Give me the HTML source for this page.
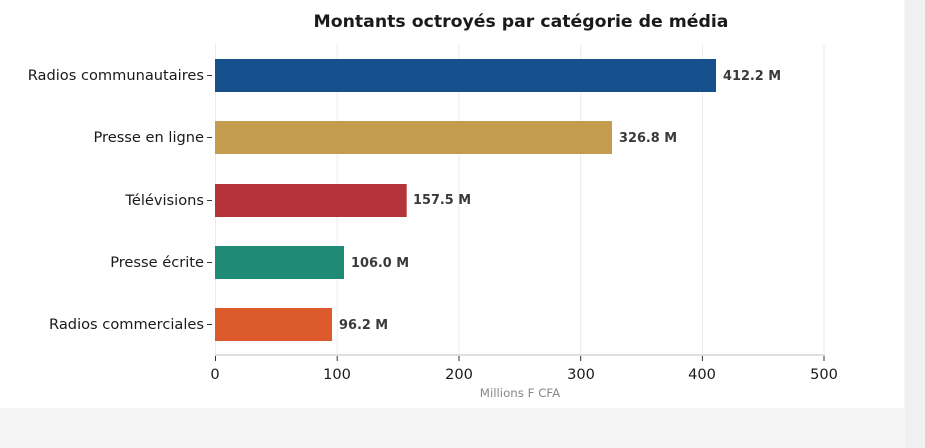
<!DOCTYPE html>
<html><head><meta charset="utf-8"><style>
html,body{margin:0;padding:0;background:#f5f5f5;}
body{width:925px;height:448px;position:relative;overflow:hidden;font-family:"DejaVu Sans","Liberation Sans",sans-serif;}
</style></head><body>
<div style="position:absolute;left:905px;top:0;width:20px;height:448px;background:#f0f0f0"></div>
<div style="position:absolute;left:0;top:0;width:904px;height:408px;background:#fff"></div>
<svg style="position:absolute;left:0;top:0" width="925" height="448" font-family="DejaVu Sans, Liberation Sans, sans-serif">
<text x="521" y="27" text-anchor="middle" font-size="17.3" font-weight="bold" fill="#1a1a1a">Montants octroyés par catégorie de média</text>
<g stroke="#ebebeb" stroke-width="1">
<line x1="337.2" y1="44" x2="337.2" y2="355"/><line x1="459" y1="44" x2="459" y2="355"/>
<line x1="580.7" y1="44" x2="580.7" y2="355"/><line x1="702.4" y1="44" x2="702.4" y2="355"/>
<line x1="824" y1="44" x2="824" y2="355"/><line x1="215.5" y1="44" x2="215.5" y2="355"/>
</g>
<line x1="215" y1="355" x2="825" y2="355" stroke="#cccccc" stroke-width="1.2"/>
<rect x="215" y="59" width="501" height="33" fill="#154f8c"/>
<rect x="215" y="121" width="397" height="33" fill="#c49c4e"/>
<rect x="215" y="184" width="191.7" height="33" fill="#b5323a"/>
<rect x="215" y="246" width="129" height="33" fill="#1f8a75"/>
<rect x="215" y="308" width="117" height="33" fill="#dc5a2c"/>
<g font-size="12.9" font-weight="bold" fill="#3a3a3a">
<text x="723" y="80">412.2 M</text><text x="619" y="142">326.8 M</text>
<text x="413" y="204">157.5 M</text><text x="351" y="267">106.0 M</text>
<text x="339" y="329">96.2 M</text>
</g>
<g font-size="14.6" fill="#1a1a1a" text-anchor="end">
<text x="204" y="80">Radios communautaires</text><text x="204" y="142">Presse en ligne</text>
<text x="204" y="205">Télévisions</text><text x="204" y="267">Presse écrite</text>
<text x="204" y="329">Radios commerciales</text>
</g>
<g stroke="#333" stroke-width="1">
<line x1="207" y1="75.5" x2="212" y2="75.5"/><line x1="207" y1="137.5" x2="212" y2="137.5"/>
<line x1="207" y1="200.5" x2="212" y2="200.5"/><line x1="207" y1="262.5" x2="212" y2="262.5"/>
<line x1="207" y1="324.5" x2="212" y2="324.5"/>
<line x1="215.5" y1="356" x2="215.5" y2="361"/><line x1="337.2" y1="356" x2="337.2" y2="361"/>
<line x1="459" y1="356" x2="459" y2="361"/><line x1="580.7" y1="356" x2="580.7" y2="361"/>
<line x1="702.4" y1="356" x2="702.4" y2="361"/><line x1="824" y1="356" x2="824" y2="361"/>
</g>
<g font-size="14.6" fill="#1a1a1a" text-anchor="middle">
<text x="215" y="379">0</text><text x="337" y="379">100</text><text x="459" y="379">200</text>
<text x="581" y="379">300</text><text x="702" y="379">400</text><text x="824" y="379">500</text>
</g>
<text x="520" y="397" text-anchor="middle" font-size="11.8" fill="#888">Millions F CFA</text>
</svg>
</body></html>
